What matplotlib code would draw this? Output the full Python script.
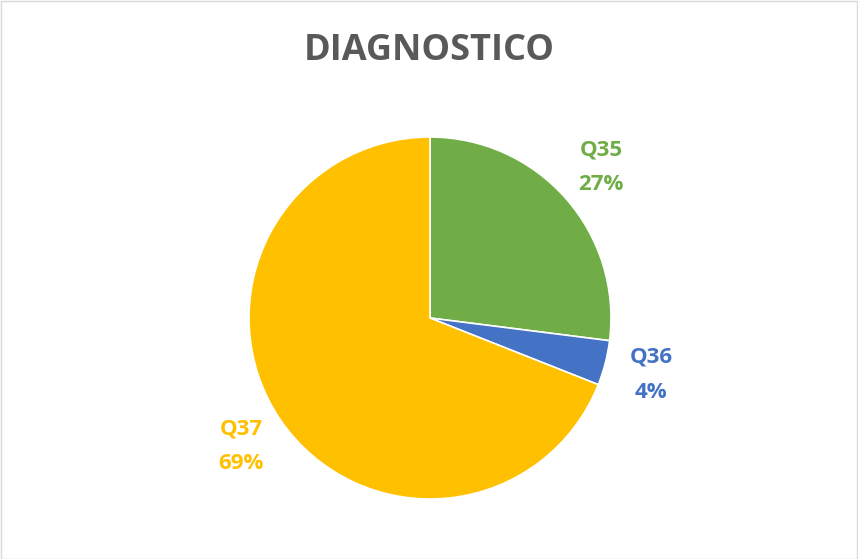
import matplotlib.pyplot as plt
from matplotlib.patches import Rectangle

categories = ['Q35', 'Q36', 'Q37']
values = [27, 4, 69]
colors = ['#70AD47', '#4472C4', '#FFC000']
title = 'DIAGNOSTICO'

plt.rcParams['font.family'] = ['Open Sans', 'DejaVu Sans']

fig = plt.figure(figsize=(8.58, 5.59), dpi=100)

# pie area: centre ~(430, 318) px, radius ~181 px
W, H = 858, 559
cx, cy, r = 430, 318, 181
ax = fig.add_axes([(cx - r) / W, (H - cy - r) / H, 2 * r / W, 2 * r / H])

total = sum(values)
labels = ['%s\n%d%%' % (c, round(v * 100 / total)) for c, v in zip(categories, values)]
wedges, texts = ax.pie(values, colors=colors, startangle=90, counterclock=False,
                       labels=labels, labeldistance=1.26,
                       wedgeprops=dict(linewidth=1.2, edgecolor='white'))
for t, c in zip(texts, colors):
    t.set_color(c)
    t.set_fontsize(16)
    t.set_fontweight('bold')
    t.set_ha('center')
    t.set_va('center')
    t.set_linespacing(1.85)
ax.set_xlim(-1, 1)
ax.set_ylim(-1, 1)
ax.set_aspect('equal')

fig.text(0.5, 1 - 51 / H, title, ha='center', va='center', fontsize=26,
         fontweight='bold', color='#595959')

# chart border
fig.patches.append(Rectangle((0.5 / W, 0.5 / H), 1 - 1.5 / W, 1 - 1.5 / H,
                             transform=fig.transFigure, fill=False,
                             edgecolor='#D9D9D9', linewidth=1))

fig.savefig('out.png', dpi=100)
